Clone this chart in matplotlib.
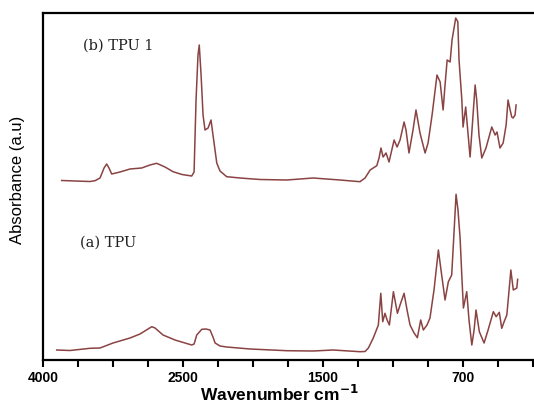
import numpy as np
import matplotlib
matplotlib.use("Agg")
import matplotlib.pyplot as plt
from matplotlib.ticker import FixedLocator, FixedFormatter

# FTIR spectra (wavenumber in cm-1, absorbance in arbitrary units)
wn_tpu1 = [3800, 3657, 3496, 3443, 3389, 3346, 3318, 3293, 3264, 3175, 3068, 2943,
           2854, 2782, 2693, 2607, 2511, 2438, 2421, 2407, 2393, 2384, 2371, 2357,
           2343, 2321, 2300, 2286, 2259, 2236, 2188, 2093, 1950, 1759, 1571, 1403,
           1289, 1260, 1231, 1193, 1180, 1169, 1157, 1140, 1123, 1094, 1077, 1060,
           1037, 1026, 1009, 986, 969, 946, 917, 900, 877, 849, 831, 814, 803, 791,
           774, 763, 742, 730, 723, 707, 700, 685, 671, 660, 649, 631, 622, 609,
           593, 569, 536, 517, 506, 489, 471, 454, 443, 431, 422, 414, 403, 397]
abs_tpu1 = [179.5, 179, 178.5, 179.3, 182, 192, 196, 192, 186, 188, 191, 192,
            195, 196.7, 193, 188.3, 185.5, 184, 188, 260, 305, 315, 285, 245,
            230, 232, 240, 225, 197, 189, 183.3, 182, 180.5, 180, 182, 180,
            178.3, 182, 190, 194.3, 202, 212, 203, 207, 198, 220, 213, 220,
            238, 230, 207, 230, 250, 227, 207, 217, 245, 285, 278, 250, 275, 300,
            298, 320, 342, 338.3, 300, 260, 233, 253, 225, 203, 230, 275, 260, 225,
            202, 212, 233, 225, 228, 212, 217, 235, 260, 250, 243, 242, 245, 255]

wn_tpu = [3853, 3711, 3496, 3389, 3250, 3068, 2961, 2835, 2800, 2714, 2586, 2438,
          2421, 2402, 2366, 2336, 2307, 2286, 2271, 2236, 2188, 2021, 1759, 1571,
          1443, 1289, 1260, 1241, 1213, 1184, 1170, 1159, 1146, 1134, 1121, 1098,
          1075, 1060, 1037, 1020, 1003, 980, 961, 942, 927, 906, 889, 866, 841,
          826, 803, 784, 765, 754, 740, 729, 717, 706, 698, 679, 666, 650, 637,
          626, 607, 580, 557, 527, 511, 493, 479, 466, 450, 437, 427, 413, 393, 388]
abs_tpu = [10, 9.5, 11.7, 12, 17, 22, 26, 33.3, 32, 25, 20, 15,
           16, 25, 30.7, 31, 30, 23, 17, 14, 13, 11, 9.3, 9,
           10, 8.3, 8.5, 12, 22, 35, 66.7, 38.3, 46.7, 40, 35, 68.3,
           46.7, 55, 66.7, 50, 35, 27, 22.3, 40, 30, 35, 42, 70, 110,
           90, 60, 78.3, 85, 120, 165.7, 150, 122, 80, 52, 68.3, 40, 15, 30,
           50, 28.3, 17, 30, 48.3, 43.3, 47.7, 31.7, 38, 45, 70, 90, 70, 72, 80.7]

tick_values = [4000, 3625, 3250, 2875, 2500, 2250, 2000, 1750, 1500,
               1300, 1100, 900, 700, 500, 300]
tick_labels = ["4000", "", "", "", "2500", "", "", "", "1500",
               "", "", "", "700", "", ""]


# the printed axis is not linear: 4000-2500, 2500-1500 and 1500-700 take equal room
# (increasing function of wavenumber, the axis is then reversed with set_xlim)
def forward(w):
    w = np.asarray(w, dtype=float)
    u = np.where(w >= 2500, (4000 - w) / 375.0,
                 np.where(w >= 1500, 4 + (2500 - w) / 250.0, 8 + (1500 - w) / 200.0))
    return -u


def inverse(v):
    u = -np.asarray(v, dtype=float)
    return np.where(u <= 4, 4000 - 375.0 * u,
                    np.where(u <= 8, 2500 - 250.0 * (u - 4), 1500 - 200.0 * (u - 8)))


fig = plt.figure(figsize=(5.34, 4.08), dpi=100)
ax = fig.add_axes([43 / 534, 48 / 408, 492 / 534, 347 / 408])

line_color = "#8a4343"
ax.plot(wn_tpu1, abs_tpu1, color=line_color, lw=1.1)
ax.plot(wn_tpu, abs_tpu, color=line_color, lw=1.1)

ax.set_xscale("function", functions=(forward, inverse))
ax.set_xlim(4000, 289)
ax.set_ylim(0, 347)

ax.xaxis.set_major_locator(FixedLocator(tick_values))
ax.xaxis.set_major_formatter(FixedFormatter(tick_labels))
ax.xaxis.set_minor_locator(FixedLocator([]))
ax.tick_params(axis="x", direction="out", length=5, width=1.5, pad=3,
               labelsize=10)
for lab in ax.get_xticklabels():
    lab.set_fontweight("bold")
    lab.set_family("Liberation Sans")
ax.set_yticks([])

for side in ["left", "bottom", "top"]:
    ax.spines[side].set_linewidth(1.6)
ax.spines["right"].set_visible(False)

ax.set_xlabel(r"Wavenumber cm$^{\mathbf{-1}}$", fontsize=12.5, fontweight="bold",
              family="Liberation Sans")
ax.xaxis.set_label_coords(0.48, -0.07)
ax.set_ylabel("Absorbance (a.u)", fontsize=12, family="Liberation Sans")
ax.yaxis.set_label_coords(-0.036, 0.52)

ax.text(0.081, 0.905, "(b) TPU 1", transform=ax.transAxes, fontsize=10.5,
        family="DejaVu Serif", va="center", ha="left", color="#222222")
ax.text(0.075, 0.337, "(a) TPU", transform=ax.transAxes, fontsize=10.5,
        family="DejaVu Serif", va="center", ha="left", color="#222222")

fig.savefig("out.png", dpi=100)
